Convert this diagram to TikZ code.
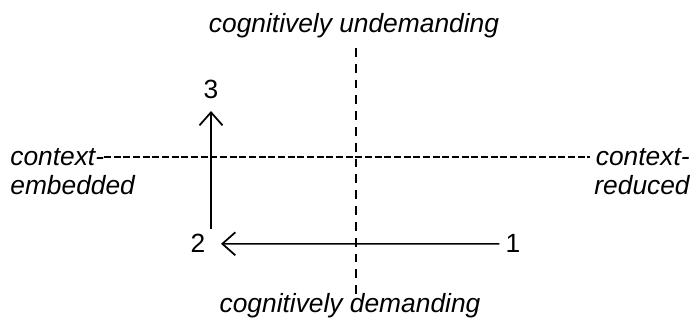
\documentclass[tikz,border=0pt]{standalone}
\usepackage{fontspec}
\setmainfont{Liberation Sans}
\usetikzlibrary{arrows.meta}

\begin{document}
\begin{tikzpicture}[
  x=0.02cm, y=-0.02cm,
  every node/.style={font=\fontsize{15}{17}\selectfont\itshape, inner sep=0pt},
  num/.style={font=\fontsize{15}{18}\selectfont},
  axis/.style={line width=0.6pt, dash pattern=on 4pt off 1.5pt},
  vaxis/.style={line width=0.8pt, dash pattern=on 5pt off 4pt},
  move/.style={line width=0.9pt, -{Straight Barb[length=2.6mm, width=4.6mm, line width=1pt]}}
]
\useasboundingbox (0,0) rectangle (695,327);

% labels of the two axes
\node[anchor=base] (undem) at (354,33) {cognitively undemanding};
\node[anchor=base] (dem) at (350,312) {cognitively demanding};
\node[anchor=base west, align=left] (embed) at (10,195) {context-\\embedded};
\node[anchor=base east, align=right] (reduc) at (690,195) {context-\\reduced};

% axes
\coordinate (vtop) at (356,48);
\coordinate (vbot) at (356,300);
\coordinate (hleft) at (104,157);
\coordinate (hright) at (590,157);
\draw[vaxis] (vtop) -- (vbot);
\draw[axis] (hleft) -- (hright);

% steps
\node[num, anchor=base] (one) at (513,253) {1};
\node[num, anchor=base] (two) at (198,253) {2};
\node[num, anchor=base] (three) at (211,99) {3};
\draw[move] (one.west) ++(-6,0) coordinate (start) -- (two.east -| 221,0);
\draw[move] (211,229) -- (211,111);
\end{tikzpicture}
\end{document}
